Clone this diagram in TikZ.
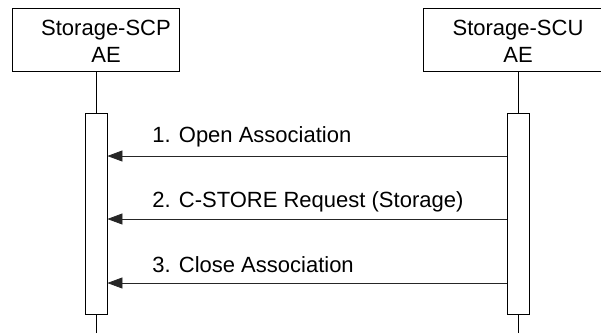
\documentclass[tikz,border=0pt]{standalone}
\usepackage{fontspec}
\setmainfont{Liberation Sans}
\usetikzlibrary{arrows.meta}

\begin{document}
\begin{tikzpicture}[x=1bp,y=-1bp,
	line width=0.8bp,
	ent/.style={draw, minimum height=63bp, inner sep=0pt},
	bar/.style={draw, fill=white, minimum width=22bp, minimum height=201bp, inner sep=0pt},
	txt/.style={inner sep=0pt, align=center, font=\fontsize{22bp}{27bp}\selectfont},
	lbl/.style={anchor=base west, inner sep=0pt, font=\fontsize{22bp}{27bp}\selectfont},
	msg/.style={draw=black!85, -{Triangle[length=15bp,width=11bp]}}]
	\useasboundingbox (0,0) rectangle (601,333);

	% application entities
	\node[ent, minimum width=167bp] (scp) at (95.5,39.5) {};
	\node[txt] (scptxt) at (106,41.5) {Storage-SCP\\AE};
	\node[ent, minimum width=190bp] (scu) at (518,39.5) {};
	\node[txt] (scutxt) at (518,41.5) {Storage-SCU\\AE};

	% lifelines
	\coordinate (scpend) at (96,333);
	\coordinate (scuend) at (518,333);
	\draw (scpend) -- (scpend |- scp.south);
	\draw (scuend) -- (scuend |- scu.south);

	\node[bar] (scpbar) at (96,213.5) {};
	\node[bar] (scubar) at (518,213.5) {};

	% messages
	\node[lbl] (m1) at (152,142) {1. Open Association};
	\node[lbl] (m2) at (152,207) {2. C-STORE Request (Storage)};
	\node[lbl] (m3) at (152,272) {3. Close Association};

	\foreach \y in {156,219,283}
		\draw[msg] (scubar.west |- 0,\y) -- (scpbar.east |- 0,\y);
\end{tikzpicture}
\end{document}
